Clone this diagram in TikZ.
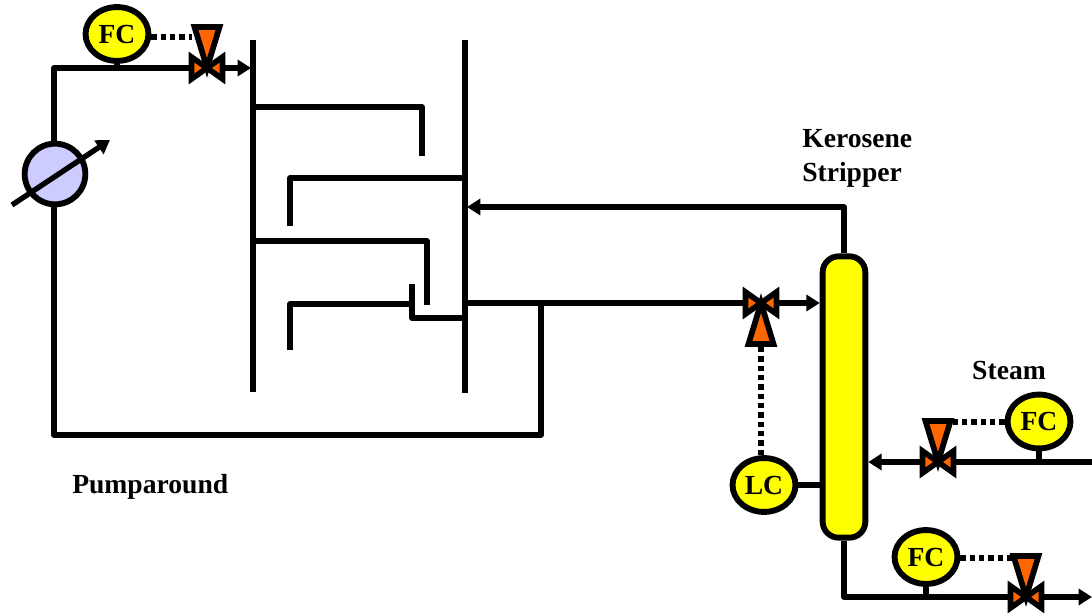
\documentclass[tikz,border=0pt]{standalone}
\usepackage{fontspec}
\setmainfont{Liberation Serif}
\usetikzlibrary{positioning,arrows.meta,shapes.geometric,calc}

\definecolor{valveorange}{HTML}{FF6600}
\definecolor{drumyellow}{HTML}{FFFF00}
\definecolor{exchblue}{HTML}{CCCCFF}

\begin{document}
\begin{tikzpicture}[
        x=0.75pt,
        y=-0.75pt,
        >={Triangle[length=10pt,width=12pt]},
        every node/.style={font=\bfseries\fontsize{20.7}{25.5}\selectfont},
        pipe/.style={line width=4pt, line join=round},
        signal/.style={line width=4pt, dash pattern=on 4pt off 3pt},
        instrument/.style={
            draw,
            line width=4.4pt,
            ellipse,
            fill=drumyellow,
            inner sep=0pt,
            minimum width=47.2pt,
            minimum height=40.4pt
        },
        exchanger/.style={
            draw,
            line width=4.4pt,
            circle,
            fill=exchblue,
            inner sep=0pt,
            minimum size=45.5pt
        },
        stripper/.style={
            draw,
            line width=4.4pt,
            rectangle,
            rounded corners=12pt,
            fill=drumyellow,
            minimum width=32pt,
            minimum height=211pt
        },
        label/.style={align=left, inner sep=0pt},
        pics/valve/.style={code={
            \coordinate (-top) at (0,-41);
            \filldraw[line width=4.2pt, line join=miter, fill=valveorange] (-15.5,-11) -- (0,0) -- (-15.5,11) -- cycle;
            \filldraw[line width=4.2pt, line join=miter, fill=valveorange] (15.5,-11) -- (0,0) -- (15.5,11) -- cycle;
            \filldraw[line width=4.3pt, line join=miter, fill=valveorange] (-12.5,-41) -- (12.5,-41) -- (0,0) -- cycle;
        }}
    ]
        \useasboundingbox (0,0) rectangle (1092,613);

        % Column walls
        \coordinate (wall_l_top) at (253,40);
        \coordinate (wall_l_bot) at (253,392);
        \coordinate (wall_r_top) at (465,40);
        \coordinate (wall_r_bot) at (465,393);
        \coordinate (feed_in) at (251,68);
        \coordinate (return_in) at (467,207);
        \coordinate (draw_off) at (465,303);
        \coordinate (branch) at (541,303);
        \coordinate (steam_in) at (1092,462);
        \coordinate (bottoms_out) at (1092,597);
        \coordinate (exch_a) at (12,205);
        \coordinate (exch_b) at (110,140);
        \coordinate (sig_top) at (192,37);
        \coordinate (sig_steam) at (950,422);
        \coordinate (sig_bot) at (1014,558);

        \draw[pipe] (wall_l_top) -- (wall_l_bot);
        \draw[pipe] (wall_r_top) -- (wall_r_bot);

        % Trays
        \draw[pipe] (253,107) -- (422,107) -- (422,156);
        \draw[pipe] (465,178) -- (290,178) -- (290,226);
        \draw[pipe] (253,241) -- (427,241) -- (427,305);
        \draw[pipe] (290,350) -- (290,304) -- (412,304);
        \draw[pipe] (412,284) -- (412,318) -- (465,318);

        % Equipment
        \node[exchanger] (exch) at (55,174) {};
        \node[stripper] (strip) at (844,397) {};
        \node[instrument] (fc_top) at (117,34) {FC};
        \node[instrument] (lc) at (764,485) {LC};
        \node[instrument] (fc_steam) at (1039,421.5) {FC};
        \node[instrument] (fc_bot) at (926,557) {FC};

        % Pumparound
        \draw[pipe] (draw_off) -- (branch) -- (541,435) -- (54,435) -- (54,205);
        \draw[pipe, ->] (54,143) -- (54,68) -- (feed_in);
        \draw[pipe] (fc_top.south) -- (fc_top.south |- feed_in);
        \draw[pipe, ->] (exch_a) -- (exch_b);

        % Kerosene stripper
        \draw[pipe, ->] (strip.north) -- (strip.north |- return_in) -- (return_in);
        \draw[pipe, ->] (branch) -- (strip.west |- branch);
        \draw[pipe] (lc) -- (strip.west |- lc);
        \draw[pipe, ->] (steam_in) -- (strip.east |- steam_in);
        \draw[pipe, ->] (strip.south) -- (strip.south |- bottoms_out) -- (bottoms_out);
        \draw[pipe] (fc_steam.south) -- (fc_steam.south |- steam_in);
        \draw[pipe] (fc_bot.south) -- (fc_bot.south |- bottoms_out);

        % Signal lines
        \draw[signal] (fc_top.east |- sig_top) -- (sig_top);
        \draw[signal] (lc.north -| 761,0) -- (761,345);
        \draw[signal] (fc_steam.west |- sig_steam) -- (sig_steam);
        \draw[signal] (fc_bot.east |- sig_bot) -- (sig_bot);

        % Valves
        \pic (v_top) at (207,68) {valve};
        \pic[rotate=180] (v_draw) at (761,303) {valve};
        \pic (v_steam) at (938,462) {valve};
        \pic (v_bot) at (1026,597) {valve};

        % Labels
        \node[label, anchor=west] (kerosene) at (802,158) {Kerosene\\Stripper};
        \node[label] (steam) at (1009,370) {Steam};
        \node[label, anchor=west] (pumparound) at (72,487) {Pumparound};
    \end{tikzpicture}
\end{document}
